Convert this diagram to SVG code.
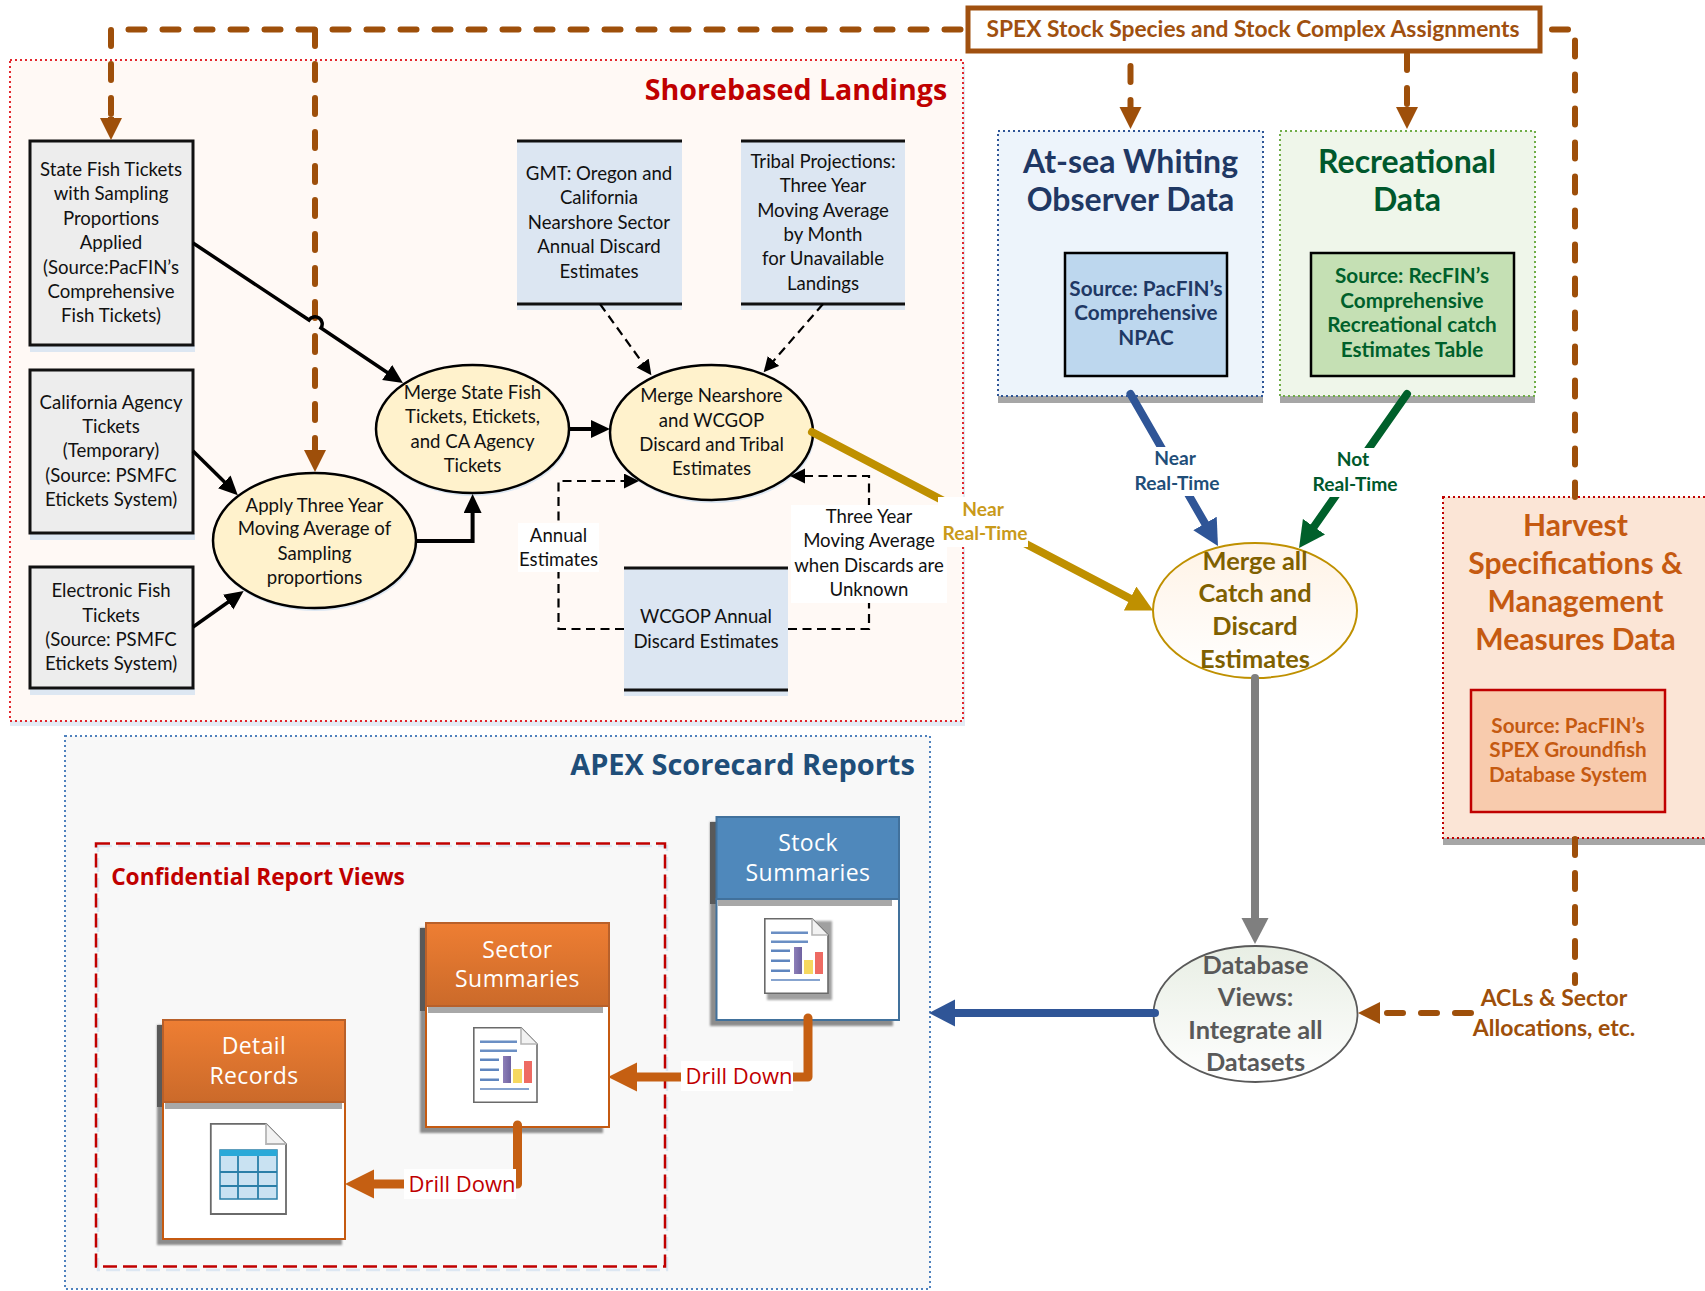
<svg xmlns="http://www.w3.org/2000/svg" xmlns:xlink="http://www.w3.org/1999/xlink" width="1705" height="1291" viewBox="0 0 1705 1291">
<style>
text{font-family:"Lato","Carlito","Liberation Sans",sans-serif;text-anchor:middle}
.t{font-size:18.6px;fill:#111}
.os{font-family:"Open Sans","Liberation Sans",sans-serif}
.b{font-weight:700}
.box{fill:#ededed;stroke:#111;stroke-width:3}
.shb{fill:#dde7f2}
.ell{fill:#fff2cc;stroke:#000;stroke-width:2.5}
.doc{fill:#dce6f2}
.rule{stroke:#111;stroke-width:3}
.hd{font-size:23px;fill:#fff;letter-spacing:.4px}
.drill{font-size:22px;fill:#c00000}
.lbl{fill:#fff}
.title{font-size:32px}
.harv{font-size:30px;fill:#c55a11}
.src{font-size:20.7px}
.ball{font-size:25.4px}
.rt{font-size:19.2px}
.acl{font-size:23px;fill:#9e4f0a}
.brown{fill:none;stroke:#9e4f0a;stroke-width:6;stroke-linecap:round;stroke-linejoin:round;stroke-dasharray:16 18}
.blk{fill:none;stroke:#000;stroke-width:3.5}
.blkd{fill:none;stroke:#000;stroke-width:2.2;stroke-dasharray:9 5.5}
.thick{fill:none;stroke-width:8;stroke-linecap:round;stroke-linejoin:round}
.orange{fill:none;stroke:#c55f12;stroke-width:9;stroke-linecap:round;stroke-linejoin:round}
.cardsh{fill:#8c8c8c}
.hdsh{fill:#595959}
.body{fill:#fff;stroke-width:2}
</style>
<defs>
<linearGradient id="og" x1="0" y1="0" x2="0" y2="1"><stop offset="0" stop-color="#ee7e33"/><stop offset="1" stop-color="#cb6a2a"/></linearGradient>
<linearGradient id="gold" x1="0" y1="0" x2="0" y2="1"><stop offset="0" stop-color="#fff3e6"/><stop offset="1" stop-color="#ffffff"/></linearGradient>
<linearGradient id="grn" x1="0" y1="0" x2="0" y2="1"><stop offset="0" stop-color="#e8eee4"/><stop offset="1" stop-color="#ffffff"/></linearGradient>
<linearGradient id="p" x1="0" y1="0" x2="1" y2="0"><stop offset="0" stop-color="#8d7fb8"/><stop offset="1" stop-color="#6f62a0"/></linearGradient>
<filter id="soft" x="-5%" y="-5%" width="110%" height="110%"><feGaussianBlur stdDeviation="1"/></filter>
<marker id="mBrown" markerUnits="userSpaceOnUse" markerWidth="24" markerHeight="24" refX="1" refY="11" orient="auto"><path d="M0 0L22 11L0 22Z" fill="#9e4f0a"/></marker>
<marker id="mBlack" markerUnits="userSpaceOnUse" markerWidth="22" markerHeight="20" refX="1" refY="9" orient="auto"><path d="M0 0L19 9L0 18Z" fill="#000"/></marker>
<marker id="mBlackD" markerUnits="userSpaceOnUse" markerWidth="17" markerHeight="16" refX="1" refY="7.5" orient="auto"><path d="M0 0L15 7.5L0 15Z" fill="#000"/></marker>
<marker id="mBlue" markerUnits="userSpaceOnUse" markerWidth="28" markerHeight="28" refX="1" refY="13.5" orient="auto"><path d="M0 0L26 13.5L0 27Z" fill="#2f5597"/></marker>
<marker id="mGreen" markerUnits="userSpaceOnUse" markerWidth="28" markerHeight="28" refX="1" refY="13.5" orient="auto"><path d="M0 0L26 13.5L0 27Z" fill="#00602b"/></marker>
<marker id="mGold" markerUnits="userSpaceOnUse" markerWidth="28" markerHeight="28" refX="1" refY="13.5" orient="auto"><path d="M0 0L26 13.5L0 27Z" fill="#bf9000"/></marker>
<marker id="mGray" markerUnits="userSpaceOnUse" markerWidth="28" markerHeight="28" refX="1" refY="13.5" orient="auto"><path d="M0 0L26 13.5L0 27Z" fill="#7f7f7f"/></marker>
<marker id="mOrange" markerUnits="userSpaceOnUse" markerWidth="31" markerHeight="30" refX="1" refY="14.5" orient="auto"><path d="M0 0L29 14.5L0 29Z" fill="#c55f12"/></marker>
<g id="report">
<path d="M0.8 0.8H48L64 17V75.2H0.8Z" fill="#fff" stroke="#6a6a6a" stroke-width="1.6"/>
<path d="M48 0.8V17H64" fill="#f2f2f2" stroke="#b5b5b5" stroke-width="1.6"/>
<path d="M7 14.7H44M7 23.7H44" stroke="#6b8fc4" stroke-width="2.5"/>
<path d="M7 32.7H26M7 42.7H26M7 52.7H26" stroke="#5f86bf" stroke-width="2.5"/>
<path d="M7 62H56" stroke="#5f86bf" stroke-width="1.6"/>
<rect x="30" y="29" width="8" height="27" fill="url(#p)"/>
<rect x="40" y="42" width="9" height="14" fill="#f6d860"/>
<rect x="51" y="34" width="8" height="22" fill="#ee6b63"/>
</g>
</defs>
<rect width="1705" height="1291" fill="#fff"/>

<g id="shorebased-landings">
<rect x="10" y="64" width="955" height="662" fill="#e3ebf4"/>
<rect x="10" y="60" width="953" height="661" fill="#fff9f5" stroke="#e2262c" stroke-width="2" stroke-dasharray="2 3"/>
<text class="os b" x="796" y="100" style="font-size:28.6px;fill:#c00000">Shorebased Landings</text>
</g>
<g id="apex-scorecard-reports">
<rect x="65" y="736" width="865" height="553" fill="#f8f8f8" stroke="#4f81bd" stroke-width="2" stroke-dasharray="2 3"/>
<text class="os b" x="742.5" y="775" style="font-size:29px;fill:#1f4e79">APEX Scorecard Reports</text>
</g>
<g id="confidential-report-views">
<rect x="98" y="846" width="569" height="424" fill="none" stroke="#dde7f2" stroke-width="2.5" stroke-dasharray="14 6"/>
<rect x="96" y="843.5" width="569" height="423" fill="none" stroke="#c00000" stroke-width="2.5" stroke-dasharray="14 6"/>
<text class="os b" x="258" y="885" style="font-size:22.7px;fill:#c00000">Confidential Report Views</text>
</g>

<g id="state-fish-tickets">
<rect class="shb" x="30" y="345" width="165" height="7"/>
<rect class="box" x="30" y="141" width="163" height="204"/>
<text class="t" x="111" y="176">State Fish Tickets</text><text class="t" x="111" y="200">with Sampling</text><text class="t" x="111" y="225">Proportions</text><text class="t" x="111" y="249">Applied</text><text class="t" x="111" y="274">(Source:PacFIN’s</text><text class="t" x="111" y="298">Comprehensive</text><text class="t" x="111" y="322">Fish Tickets)</text>
</g>
<g id="california-agency-tickets">
<rect class="shb" x="30" y="533" width="165" height="7"/>
<rect class="box" x="30" y="370" width="163" height="163"/>
<text class="t" x="111" y="409">California Agency</text><text class="t" x="111" y="433">Tickets</text><text class="t" x="111" y="457">(Temporary)</text><text class="t" x="111" y="482">(Source: PSMFC</text><text class="t" x="111" y="506">Etickets System)</text>
</g>
<g id="electronic-fish-tickets">
<rect class="shb" x="30" y="688" width="165" height="7"/>
<rect class="box" x="30" y="567" width="163" height="121"/>
<text class="t" x="111" y="597">Electronic Fish</text><text class="t" x="111" y="622">Tickets</text><text class="t" x="111" y="646">(Source: PSMFC</text><text class="t" x="111" y="670">Etickets System)</text>
</g>
<g id="gmt-estimates">
<rect class="shb" x="517" y="304" width="165" height="6"/>
<rect class="doc" x="517" y="141" width="165" height="163"/>
<path class="rule" d="M517 141H682M517 304H682"/>
<text class="t" x="599" y="180">GMT: Oregon and</text><text class="t" x="599" y="204">California</text><text class="t" x="599" y="229">Nearshore Sector</text><text class="t" x="599" y="253">Annual Discard</text><text class="t" x="599" y="278">Estimates</text>
</g>
<g id="tribal-projections">
<rect class="shb" x="741" y="304" width="164" height="6"/>
<rect class="doc" x="741" y="141" width="164" height="163"/>
<path class="rule" d="M741 141H905M741 304H905"/>
<text class="t" x="823" y="168">Tribal Projections:</text><text class="t" x="823" y="192">Three Year</text><text class="t" x="823" y="217">Moving Average</text><text class="t" x="823" y="241">by Month</text><text class="t" x="823" y="265">for Unavailable</text><text class="t" x="823" y="290">Landings</text>
</g>
<g id="wcgop-estimates">
<rect class="shb" x="624" y="690" width="164" height="6"/>
<rect class="doc" x="624" y="568" width="164" height="122"/>
<path class="rule" d="M624 568H788M624 690H788"/>
<text class="t" x="706" y="623">WCGOP Annual</text><text class="t" x="706" y="648">Discard Estimates</text>
</g>
<g id="apply-three-year">
<ellipse cx="315.5" cy="543" rx="102" ry="68" fill="#dde7f2"/>
<ellipse class="ell" cx="314.5" cy="540.5" rx="101.5" ry="67.5"/>
<text class="t" x="314.5" y="512">Apply Three Year</text><text class="t" x="314.5" y="535">Moving Average of</text><text class="t" x="314.5" y="560">Sampling</text><text class="t" x="314.5" y="584">proportions</text>
</g>
<g id="merge-state-fish">
<ellipse cx="473.5" cy="431.5" rx="97" ry="64.5" fill="#dde7f2"/>
<ellipse class="ell" cx="472.5" cy="429" rx="96.5" ry="64"/>
<text class="t" x="472.5" y="399">Merge State Fish</text><text class="t" x="472.5" y="423">Tickets, Etickets,</text><text class="t" x="472.5" y="448">and CA Agency</text><text class="t" x="472.5" y="472">Tickets</text>
</g>
<g id="merge-nearshore">
<ellipse cx="712.5" cy="435" rx="102" ry="68" fill="#dde7f2"/>
<ellipse class="ell" cx="711.5" cy="432.5" rx="101.5" ry="67.5"/>
<text class="t" x="711.5" y="402">Merge Nearshore</text><text class="t" x="711.5" y="427">and WCGOP</text><text class="t" x="711.5" y="451">Discard and Tribal</text><text class="t" x="711.5" y="475">Estimates</text>
</g>

<g id="spex-assignments">
<rect x="968" y="8" width="572" height="43" fill="#fff" stroke="#a0500f" stroke-width="5"/>
<text class="b" x="1253" y="37" style="font-size:22.8px;fill:#a0500f">SPEX Stock Species and Stock Complex Assignments</text>
</g>
<g id="at-sea-whiting">
<rect x="998" y="396" width="265" height="7" fill="#a6a6a6"/>
<rect x="998" y="131" width="265" height="265" fill="#edf4fb" stroke="#2f5597" stroke-width="2" stroke-dasharray="2 3"/>
<text class="b title" x="1130.5" y="173" style="fill:#1f3864">At-sea Whiting</text><text class="b title" x="1130.5" y="211" style="fill:#1f3864">Observer Data</text>
<rect x="1065" y="253" width="162" height="123" fill="#bdd7ee" stroke="#000" stroke-width="2.5"/>
<text class="b src" x="1146" y="296" style="fill:#1f3864">Source: PacFIN’s</text><text class="b src" x="1146" y="320" style="fill:#1f3864">Comprehensive</text><text class="b src" x="1146" y="345" style="fill:#1f3864">NPAC</text>
</g>
<g id="recreational-data">
<rect x="1280" y="396" width="255" height="7" fill="#a6a6a6"/>
<rect x="1280" y="131" width="255" height="265" fill="#eff6ea" stroke="#70ad47" stroke-width="2" stroke-dasharray="2 3"/>
<text class="b title" x="1407" y="173" style="fill:#00582c">Recreational</text><text class="b title" x="1407" y="211" style="fill:#00582c">Data</text>
<rect x="1311" y="253" width="203" height="123" fill="#c5e0b4" stroke="#000" stroke-width="2.5"/>
<text class="b src" x="1412" y="283" style="fill:#00602b">Source: RecFIN’s</text><text class="b src" x="1412" y="308" style="fill:#00602b">Comprehensive</text><text class="b src" x="1412" y="332" style="fill:#00602b">Recreational catch</text><text class="b src" x="1412" y="357" style="fill:#00602b">Estimates Table</text>
</g>
<g id="harvest-specifications">
<rect x="1443" y="838" width="262" height="7" fill="#a6a6a6"/>
<rect x="1443" y="497" width="270" height="341" fill="#fbe5d6" stroke="#c00000" stroke-width="2" stroke-dasharray="2 3"/>
<text class="b harv" x="1575.5" y="536">Harvest</text><text class="b harv" x="1575.5" y="574">Specifications &amp;</text><text class="b harv" x="1575.5" y="612">Management</text><text class="b harv" x="1575.5" y="650">Measures Data</text>
<rect x="1471" y="690" width="194" height="122" fill="#f8cbad" stroke="#c00000" stroke-width="2.5"/>
<text class="b src" x="1568" y="733" style="fill:#c55a11">Source: PacFIN’s</text><text class="b src" x="1568" y="757" style="fill:#c55a11">SPEX Groundfish</text><text class="b src" x="1568" y="782" style="fill:#c55a11">Database System</text>
</g>
<g id="merge-all">
<ellipse cx="1255" cy="610.5" rx="102" ry="67.5" fill="url(#gold)" stroke="#bf9000" stroke-width="2"/>
<text class="b ball" x="1255" y="570" style="fill:#7f6000">Merge all</text><text class="b ball" x="1255" y="602" style="fill:#7f6000">Catch and</text><text class="b ball" x="1255" y="635" style="fill:#7f6000">Discard</text><text class="b ball" x="1255" y="668" style="fill:#7f6000">Estimates</text>
</g>
<g id="database-views">
<ellipse cx="1255.5" cy="1014" rx="102" ry="68" fill="url(#grn)" stroke="#595959" stroke-width="1.8"/>
<text class="b ball" x="1255.5" y="974" style="fill:#595959">Database</text><text class="b ball" x="1255.5" y="1006" style="fill:#595959">Views:</text><text class="b ball" x="1255.5" y="1039" style="fill:#595959">Integrate all</text><text class="b ball" x="1255.5" y="1071" style="fill:#595959">Datasets</text>
</g>
<g id="acls-allocations">
<text class="b acl" x="1554" y="1006">ACLs &amp; Sector</text><text class="b acl" x="1554" y="1036">Allocations, etc.</text>
</g>

<g id="stock-summaries">
<rect class="cardsh" x="710" y="822" width="183" height="204" filter="url(#soft)"/>
<rect class="hdsh" x="710" y="822" width="8" height="82"/>
<rect class="body" x="716.5" y="899" width="182.5" height="121" stroke="#41719c"/>
<rect x="716.5" y="817" width="182.5" height="82" fill="#4f88bb" stroke="#41719c" stroke-width="2"/>
<rect x="718" y="900" width="174" height="6" fill="#a8a8a8"/>
<text class="os hd" x="808" y="851">Stock</text><text class="os hd" x="808" y="881">Summaries</text>
<rect x="767" y="921" width="65" height="79" fill="#a0a0a0" filter="url(#soft)"/>
<use href="#report" x="764" y="918"/>
</g>
<g id="sector-summaries">
<rect class="cardsh" x="420" y="928" width="183" height="205" filter="url(#soft)"/>
<rect class="hdsh" x="420" y="928" width="8" height="83"/>
<rect class="body" x="426" y="1006" width="183" height="121" stroke="#c55a11"/>
<rect x="426" y="923" width="183" height="83" fill="url(#og)" stroke="#b8602a" stroke-width="2"/>
<rect x="428" y="1007" width="175" height="6" fill="#a8a8a8"/>
<text class="os hd" x="517.5" y="958">Sector</text><text class="os hd" x="517.5" y="987">Summaries</text>
<use href="#report" x="473" y="1027"/>
</g>
<g id="detail-records">
<rect class="cardsh" x="157" y="1025" width="185" height="220" filter="url(#soft)"/>
<rect class="hdsh" x="157" y="1025" width="8" height="82"/>
<rect class="body" x="163" y="1102" width="182" height="137" stroke="#c55a11"/>
<rect x="163" y="1020" width="182" height="82" fill="url(#og)" stroke="#b8602a" stroke-width="2"/>
<rect x="165" y="1103" width="177" height="6" fill="#a8a8a8"/>
<text class="os hd" x="254" y="1054">Detail</text><text class="os hd" x="254" y="1084">Records</text>
<path d="M210.8 1123.8H266L286 1144V1214H210.8Z" fill="#fff" stroke="#6a6a6a" stroke-width="1.8"/>
<path d="M266 1123.8V1144H286" fill="#f2f2f2" stroke="#b5b5b5" stroke-width="1.8"/>
<rect x="220" y="1150" width="57" height="49" fill="#c9e2f2" stroke="#2a7fa8" stroke-width="1.5"/>
<rect x="220" y="1150" width="57" height="6" fill="#2aa9d8"/>
<path d="M238 1156V1199M258 1156V1199M220 1172H277M220 1186H277" stroke="#2a7fa8" stroke-width="1.8"/>
</g>

<g id="connectors">
<path class="brown" d="M111 114V29.5H968"/>
<path class="brown" d="M111 117V119" style="stroke-dasharray:none;stroke-linecap:butt" marker-end="url(#mBrown)"/>
<path class="brown" d="M315 30V451" marker-end="url(#mBrown)"/>
<path class="brown" d="M1130.5 66V108" marker-end="url(#mBrown)"/>
<path class="brown" d="M1407 54V108" marker-end="url(#mBrown)"/>
<path class="brown" d="M1552 29.5H1575V497"/>
<path class="brown" d="M1575 839V983"/>
<path class="brown" d="M1471 1013H1379" marker-end="url(#mBrown)"/>

<path class="blk" d="M193 243L309 320A7 7 0 0 1 321 328L388 373" marker-end="url(#mBlack)"/>
<path class="blk" d="M193 451L225 482.5" marker-end="url(#mBlack)"/>
<path class="blk" d="M193 627L229 601.5" marker-end="url(#mBlack)"/>
<path class="blk" style="stroke-width:4" d="M416 541H472.6V512" marker-end="url(#mBlack)"/>
<path class="blk" style="stroke-width:4" d="M569 429H592" marker-end="url(#mBlack)"/>
<path class="blkd" d="M600 304L643.2 363.8" marker-end="url(#mBlackD)"/>
<path class="blkd" d="M823 304L772.8 361.7" marker-end="url(#mBlackD)"/>
<path class="blkd" d="M624 629H558.5V481H625" marker-end="url(#mBlackD)"/>
<path class="blkd" d="M788 629H869V476H804" marker-end="url(#mBlackD)"/>
<rect class="lbl" x="518" y="523" width="81" height="49"/>
<text class="t" x="558.5" y="542">Annual</text><text class="t" x="558.5" y="566">Estimates</text>
<rect class="lbl" x="791" y="505" width="156" height="98"/>
<text class="t" x="869" y="523">Three Year</text><text class="t" x="869" y="547">Moving Average</text><text class="t" x="869" y="572">when Discards are</text><text class="t" x="869" y="596">Unknown</text>

<path class="thick" stroke="#bf9000" d="M812 432L1131 599" marker-end="url(#mGold)"/>
<rect class="lbl" x="938" y="497" width="90" height="50"/>
<text class="b rt" x="983" y="516" style="fill:#c99a1a">Near</text><text class="b rt" x="985" y="540" style="fill:#c99a1a">Real-Time</text>

<path class="thick" stroke="#2f5597" d="M1130.5 394L1205.5 524.3" marker-end="url(#mBlue)"/>
<rect class="lbl" x="1135" y="447" width="85" height="49"/>
<text class="b rt" x="1175" y="465" style="fill:#1f4e79">Near</text><text class="b rt" x="1177" y="490" style="fill:#1f4e79">Real-Time</text>

<path class="thick" stroke="#00602b" d="M1407 394L1313.4 527.5" marker-end="url(#mGreen)"/>
<rect class="lbl" x="1313.5" y="448" width="85" height="49"/>
<text class="b rt" x="1353" y="466" style="fill:#00582c">Not</text><text class="b rt" x="1355" y="491" style="fill:#00582c">Real-Time</text>

<path class="thick" stroke="#7f7f7f" d="M1255 678V919" marker-end="url(#mGray)"/>
<path class="thick" stroke="#2f5597" d="M1155 1013H954" marker-end="url(#mBlue)"/>

<path class="orange" d="M808 1018V1077H636" marker-end="url(#mOrange)"/>
<rect class="lbl" x="681" y="1061" width="112" height="30"/>
<text class="os drill" x="739" y="1084">Drill Down</text>
<path class="orange" d="M517.5 1125V1184H373" marker-end="url(#mOrange)"/>
<rect class="lbl" x="404" y="1169" width="112" height="30"/>
<text class="os drill" x="462" y="1192">Drill Down</text>
</g>
</svg>
